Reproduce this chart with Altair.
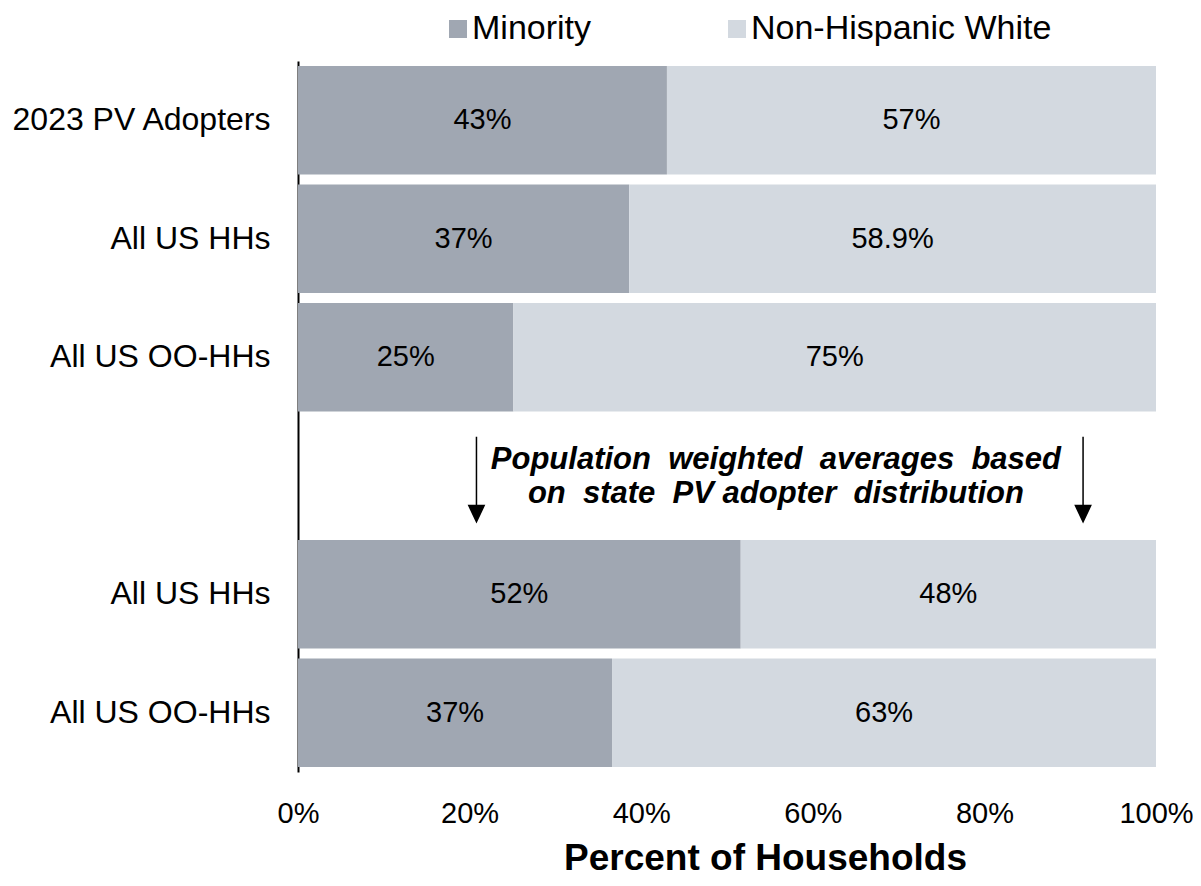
import json
import altair as alt
import pandas as pd

# ---- data ----
row_keys = ["0", "1", "2", "3", "4", "5"]
row_labels = ["2023 PV Adopters", "All US HHs", "All US OO-HHs", "", "All US HHs", "All US OO-HHs"]
bar_rows = ["0", "1", "2", "4", "5"]
groups = ["Minority", "Non-Hispanic White"]
colors = ["#A0A7B2", "#D3D9E0"]
minority = [43.0, 38.6, 25.1, 51.6, 36.6]
white = [57.0, 61.4, 74.9, 48.4, 63.4]
minority_labels = ["43%", "37%", "25%", "52%", "37%"]
white_labels = ["57%", "58.9%", "75%", "48%", "63%"]
note_row = "3"
note_x = [55.7]
note_lines = [["Population", "weighted", "averages", "based"],
              ["on", "state", "PV adopter", "distribution"]]
arrow_x = [20.8, 91.5]
tick_values = [0, 20, 40, 60, 80, 100]
x_title = "Percent of Households"

FONT = "Liberation Sans"
GAP = "\u00a0 "  # slightly wider word gaps, as in the reference

recs = []
for i, r in enumerate(bar_rows):
    m, w = minority[i], white[i]
    recs.append({"row": r, "group": groups[0], "start": 0.0, "end": m,
                 "mid": m / 2, "label": minority_labels[i]})
    recs.append({"row": r, "group": groups[1], "start": m, "end": m + w,
                 "mid": m + w / 2, "label": white_labels[i]})
bars_df = pd.DataFrame(recs)
note_text = "\n".join(GAP.join(words) for words in note_lines)
note_df = pd.DataFrame({"row": [note_row], "x": note_x, "note": [note_text]})
arrow_df = pd.DataFrame({"row": [note_row] * len(arrow_x), "x": arrow_x})

label_expr = json.dumps(row_labels) + "[toNumber(datum.value)]"

y_scale = alt.Scale(domain=row_keys, paddingInner=0.085, paddingOuter=0.0425)
x_scale = alt.Scale(domain=[0, 100], nice=False)

y_axis = alt.Axis(title=None, labelExpr=label_expr, domainColor="black",
                  domainWidth=2, ticks=False, labelPadding=28,
                  labelFontSize=32, labelColor="black", labelFont=FONT,
                  grid=False, labelLimit=0)
x_axis = alt.Axis(values=tick_values, labelExpr="datum.value + '%'",
                  domain=False, ticks=False, grid=False, labelFlush=False,
                  labelFontSize=29, labelPadding=27, labelColor="black",
                  labelFont=FONT, title=x_title, titleFontSize=37,
                  titleFontWeight="bold", titlePadding=12, titleX=467,
                  titleColor="black", titleFont=FONT)


def Y():
    return alt.Y("row:N", sort=row_keys, scale=y_scale, axis=y_axis)


def X(field):
    return alt.X(field, scale=x_scale, axis=x_axis, title=x_title)


bars = alt.Chart(bars_df).mark_bar().encode(
    x=X("start:Q"),
    x2="end:Q",
    y=Y(),
    color=alt.Color("group:N", scale=alt.Scale(domain=groups, range=colors),
                    legend=alt.Legend(title=None, orient="none", direction="horizontal",
                                      legendX=143, legendY=-49, symbolType="square",
                                      symbolSize=324, symbolStrokeWidth=0,
                                      labelFontSize=34, labelFont=FONT,
                                      labelColor="black",
                                      labelOffset=alt.ExprRef(expr="-3"),
                                      columnPadding=128, padding=0, labelLimit=0)),
)

bar_text = alt.Chart(bars_df).mark_text(fontSize=29, color="black", font=FONT,
                                        align="center", baseline="middle").encode(
    x=X("mid:Q"),
    y=Y(),
    text="label:N",
)

note = alt.Chart(note_df).mark_text(fontSize=31, fontWeight="bold", fontStyle="italic",
                                     font=FONT, color="black", lineBreak="\n",
                                     lineHeight=34, align="center", dy=-16,
                                     baseline="middle").encode(
    x=X("x:Q"),
    y=Y(),
    text="note:N",
)

arrow_shape = "M0,-1L0,0.62M-0.18,0.62L0.18,0.62L0,1Z"
arrows = alt.Chart(arrow_df).mark_point(shape=arrow_shape, size=7225, filled=True,
                                        fill="black", stroke="black", strokeWidth=1.5,
                                        opacity=1, yOffset=3.5).encode(
    x=X("x:Q"),
    y=Y(),
)

chart = alt.layer(bars, bar_text, note, arrows).properties(
    width=858, height=711,
    autosize=alt.AutoSizeParams(type="none"),
    padding={"left": 290, "top": 53, "right": 37, "bottom": 106},
).configure(font=FONT).configure_view(stroke=None)

chart.save("out.html", embed_options={"renderer": "svg", "actions": False})
